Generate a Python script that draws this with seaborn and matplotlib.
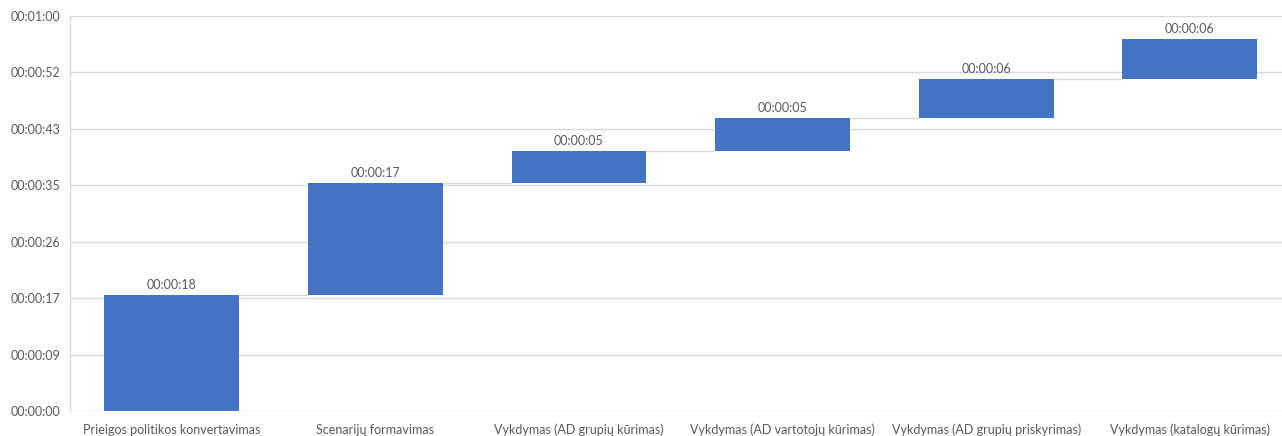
import matplotlib
matplotlib.use("Agg")
import matplotlib.pyplot as plt
import seaborn as sns
import numpy as np
import pandas as pd
from matplotlib.ticker import FixedLocator, FuncFormatter

# Process steps and how long each one took (seconds)
steps = [
    "Prieigos politikos konvertavimas",
    "Scenarijų formavimas",
    "Vykdymas (AD grupių kūrimas)",
    "Vykdymas (AD vartotojų kūrimas)",
    "Vykdymas (AD grupių priskyrimas)",
    "Vykdymas (katalogų kūrimas)",
]
durations_s = [17.8, 17.1, 4.9, 5.1, 5.9, 6.1]

# Value axis in spreadsheet time units: one major step = 0.0001 day
axis_step_s = 8.64
axis_steps = 7


def hms(seconds):
    s = int(round(seconds))
    return f"{s // 3600:02d}:{(s % 3600) // 60:02d}:{s % 60:02d}"


sns.set_theme(style="white")
plt.rcParams["font.family"] = ["Lato", "DejaVu Sans"]

BLUE = "#4472C4"
GRID = "#d9d9d9"
TEXT = "#595959"
BAR_W = 0.663

fig = plt.figure(figsize=(12.82, 4.36), dpi=100)
ax = fig.add_axes([70 / 1282, 1 - 411 / 436, 1221.6 / 1282, 395 / 436])

df = pd.DataFrame({"step": steps, "dur": durations_s})
tops = np.cumsum(durations_s)
bases = tops - np.array(durations_s)

sns.barplot(data=df, x="step", y="dur", color=BLUE, saturation=1,
            width=BAR_W, ax=ax, zorder=3, linewidth=0)

# Float each bar on the running total (waterfall)
for patch, b in zip(ax.patches, bases):
    patch.set_y(b)

# Connector lines between consecutive bars
for i in range(len(steps) - 1):
    ax.hlines(tops[i], i + BAR_W / 2, i + 1 - BAR_W / 2,
              color=GRID, linewidth=1, zorder=2)

# Value labels above each bar
for i, (top, d) in enumerate(zip(tops, durations_s)):
    ax.text(i, top + 0.6, hms(d), ha="center", va="bottom",
            fontsize=9, color=TEXT, zorder=4)

yt = np.arange(axis_steps + 1) * axis_step_s
ax.set_ylim(0, yt[-1])
ax.set_xlim(-0.5, len(steps) - 0.5)
ax.yaxis.set_major_locator(FixedLocator(yt))
ax.yaxis.set_major_formatter(FuncFormatter(lambda v, pos: hms(v)))

ax.yaxis.grid(True, color=GRID, linewidth=1)
ax.set_axisbelow(True)
for side in ("top", "right", "bottom"):
    ax.spines[side].set_visible(False)
ax.spines["left"].set_color(GRID)
ax.spines["left"].set_linewidth(1)

ax.set_xlabel("")
ax.set_ylabel("")
ax.tick_params(axis="y", length=0, pad=7, labelsize=9, labelcolor=TEXT)
ax.tick_params(axis="x", length=0, pad=9, labelsize=9, labelcolor=TEXT)

fig.savefig("out.png", dpi=100, facecolor="white")
